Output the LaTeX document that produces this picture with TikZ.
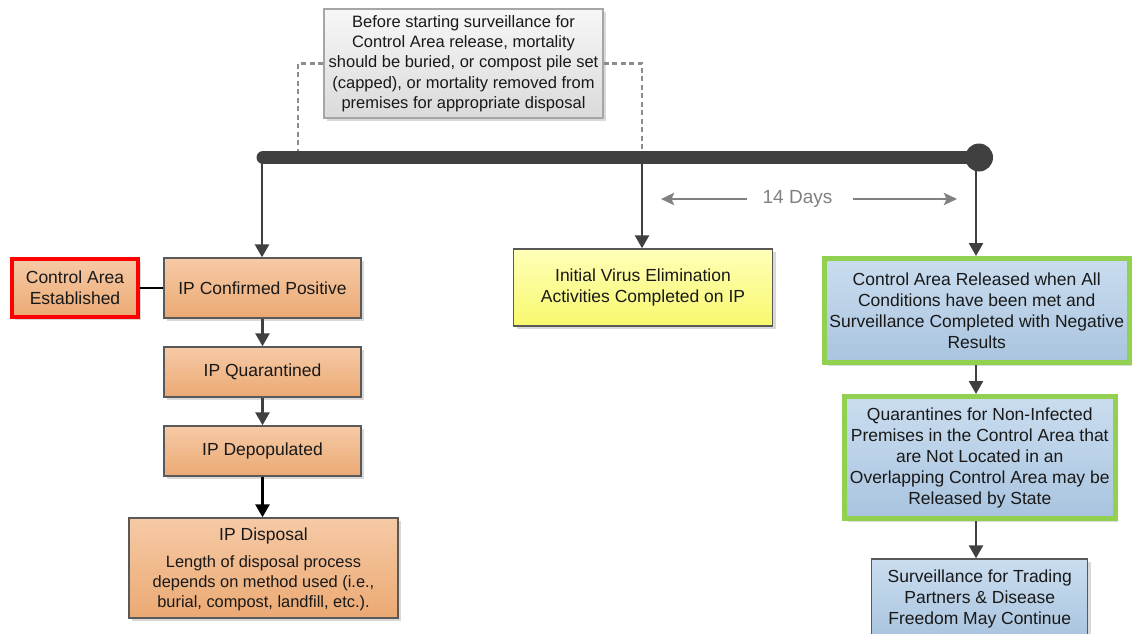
\documentclass[tikz,border=0pt]{standalone}
\usepackage{fontspec}
\setmainfont{Liberation Sans}
\usetikzlibrary{arrows.meta,shadows}
\definecolor{barc}{HTML}{404040}
\definecolor{edgec}{HTML}{595959}
\definecolor{orT}{HTML}{F6CAA6}
\definecolor{orB}{HTML}{EBA973}
\definecolor{yeT}{HTML}{FFFFB8}
\definecolor{yeB}{HTML}{F8F86E}
\definecolor{blT}{HTML}{CADDEF}
\definecolor{blB}{HTML}{A9C4DF}
\definecolor{grT}{HTML}{F7F7F7}
\definecolor{grB}{HTML}{DADADA}
\definecolor{greenc}{HTML}{92D050}
\definecolor{dashc}{HTML}{8C8C8C}
\definecolor{daysc}{HTML}{808080}
\tikzset{
  shad/.style={drop shadow={shadow xshift=3pt, shadow yshift=-3pt, opacity=0.25, fill=black!60}},
  boxbase/.style={rectangle, draw=edgec, line width=1.4pt, align=center, inner sep=2pt,
    font=\fontsize{17.5}{21}\selectfont, text=black!90, shad},
  orbox/.style={boxbase, top color=orT, bottom color=orB},
  yebox/.style={boxbase, top color=yeT, bottom color=yeB},
  blbox/.style={boxbase, top color=blT, bottom color=blB},
  grnbox/.style={blbox, draw=greenc, line width=5pt},
  notebox/.style={boxbase, top color=grT, bottom color=grB, draw=black!35, line width=1.2pt,
    font=\fontsize{16.5}{20.3}\selectfont},
  arr/.style={draw=barc, line width=2.6pt, -{Triangle[length=13pt,width=14pt]}},
  darr/.style={draw=black, line width=2.6pt, -{Triangle[length=13pt,width=14pt]}},
  garr/.style={draw=daysc, line width=2.6pt, -{Stealth[length=13pt,width=12pt,inset=2.5pt]}},
  dsh/.style={draw=dashc, line width=2.6pt, dash pattern=on 5pt off 3.5pt},
}
\begin{document}
\begin{tikzpicture}[x=1pt,y=-1pt]
\path[use as bounding box] (0,0) rectangle (1132,634);

% note box and dashed links
\node[notebox, minimum width=279pt, minimum height=109pt] (note) at (463.5,63.5)
  {Before starting surveillance for\\Control Area release, mortality\\should be buried, or compost pile set\\(capped), or mortality removed from\\premises for appropriate disposal};

% timeline
\coordinate (tl) at (263,157.5);
\coordinate (tr) at (979,157.5);
\coordinate (b1) at (262,157.5);
\coordinate (b2) at (642,157.5);
\coordinate (b3) at (976,157.5);
\coordinate (d1) at (298,152);
\coordinate (d2) at (642,152);
\draw[dsh] (note.west) -| (d1);
\draw[dsh] (note.east) -| (d2);
\draw[barc, line width=13pt, line cap=round] (tl) -- (tr);
\fill[barc] (tr) circle (14pt);
\node[circle, minimum size=0pt, inner sep=0pt] (endc) at (tr) {};

% left column
\node[orbox, minimum width=197pt, minimum height=60pt] (ipc) at (262.5,288) {IP Confirmed Positive};
\node[orbox, draw=red, line width=4.5pt, minimum width=126pt, minimum height=58pt] (cae) at (75,288) {Control Area\\Established};
\node[orbox, minimum width=197pt, minimum height=50pt] (ipq) at (262.5,372) {IP Quarantined};
\node[orbox, minimum width=197pt, minimum height=50pt] (ipd) at (262.5,451) {IP Depopulated};
\node[orbox, minimum width=269pt, minimum height=100pt] (ipx) at (263.5,568) {};
\node[font=\fontsize{17.5}{21}\selectfont, text=black!90, inner sep=0pt] (ipxt) at (263.5,536) {IP Disposal};
\node[font=\fontsize{16.4}{20}\selectfont, text=black!90, align=center, inner sep=0pt] (ipxb) at (263.5,583)
  {Length of disposal process\\depends on method used (i.e.,\\burial, compost, landfill, etc.).};

\draw[line width=1.2pt, black] (cae.east) -- (ipc.west);
\draw[arr] (b1) -- (b1 |- ipc.north);
\draw[arr] (ipc.south) -- (ipq.north);
\draw[arr] (ipq.south) -- (ipd.north);
\draw[darr] (ipd.south) -- (ipd.south |- ipx.north);

% middle
\node[yebox, minimum width=259pt, minimum height=77pt] (ive) at (643,287.5) {Initial Virus Elimination\\Activities Completed on IP};
\draw[arr] (b2) -- (b2 |- ive.north);

% 14 days
\node[font=\fontsize{19}{22}\selectfont, text=daysc, inner sep=0pt] (days) at (797.5,199) {14 Days};
\coordinate (gl) at (661,199);
\coordinate (gr) at (957,199);
\draw[garr] ([xshift=-15pt]days.west) -- (gl);
\draw[garr] ([xshift=20pt]days.east) -- (gr);

% right column
\node[grnbox, minimum width=304.5pt, minimum height=104pt] (car) at (976.75,310.5)
  {Control Area Released when All\\Conditions have been met and\\Surveillance Completed with Negative\\Results};
\node[grnbox, minimum width=270.5pt, minimum height=122pt] (qnp) at (979.75,457.5)
  {Quarantines for Non-Infected\\Premises in the Control Area that\\are Not Located in an\\Overlapping Control Area may be\\Released by State};
\node[blbox, minimum width=216pt, minimum height=80pt] (sur) at (979.75,599)
  {Surveillance for Trading\\Partners \& Disease\\Freedom May Continue};

\draw[arr] (b3) -- (b3 |- car.north);
\draw[arr] (b3 |- car.south) -- (b3 |- qnp.north);
\draw[arr] (b3 |- qnp.south) -- (b3 |- sur.north);
\end{tikzpicture}
\end{document}
